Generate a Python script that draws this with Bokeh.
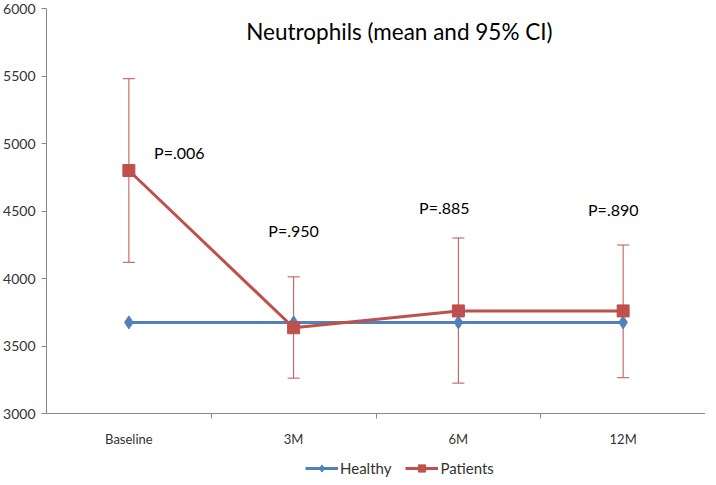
from bokeh.plotting import figure
from bokeh.layouts import column
from bokeh.models import (Range1d, FixedTicker, Whisker, ColumnDataSource, Legend, LegendItem, Label)
from bokeh.core.properties import value
from bokeh.embed import file_html
from bokeh.resources import INLINE

categories = ["Baseline", "3M", "6M", "12M"]
healthy = [3675, 3675, 3675, 3675]
patients = [4800, 3635, 3760, 3760]
ci_low = [4120, 3262, 3225, 3265]
ci_high = [5480, 4012, 4300, 4248]
p_labels = ["P=.006", "P=.950", "P=.885", "P=.890"]
p_label_x = [0.806, 1.5, 2.415, 3.44]
p_label_y = [4937, 4352, 4525, 4511]
y_ticks = [3000, 3500, 4000, 4500, 5000, 5500, 6000]
series_names = ["Healthy", "Patients"]

FONT = "Lato"
RED = "#C0504D"
BLUE = "#4F81BD"
TXT = "#333333"

x = [i + 0.5 for i in range(len(categories))]

p = figure(frame_width=659, frame_height=405, output_backend="svg", toolbar_location=None,
           x_range=Range1d(0, len(categories)), y_range=Range1d(3000, 6000),
           min_border_left=41, min_border_right=0, min_border_top=8, min_border_bottom=40)
p.outline_line_color = None
p.xgrid.visible = False
p.ygrid.visible = False

p.yaxis.ticker = FixedTicker(ticks=y_ticks)
p.yaxis.axis_line_color = "#868686"
p.yaxis.major_tick_line_color = "#868686"
p.yaxis.major_tick_out = 5
p.yaxis.major_tick_in = 0
p.yaxis.minor_tick_line_color = None
p.yaxis.major_label_text_font = FONT
p.yaxis.major_label_text_font_size = "14px"
p.yaxis.major_label_text_color = TXT
p.yaxis.major_label_standoff = 6

p.xaxis.ticker = FixedTicker(ticks=x, minor_ticks=[i for i in range(1, len(categories))])
p.xaxis.major_label_overrides = {xi: c for xi, c in zip(x, categories)}
p.xaxis.axis_line_color = "#868686"
p.xaxis.major_tick_line_color = None
p.xaxis.minor_tick_line_color = "#868686"
p.xaxis.minor_tick_out = 5
p.xaxis.minor_tick_in = 0
p.xaxis.major_label_text_font = FONT
p.xaxis.major_label_text_font_size = "13px"
p.xaxis.major_label_text_color = TXT
p.xaxis.major_label_standoff = 11

src = ColumnDataSource(dict(x=x, healthy=healthy, patients=patients, lo=ci_low, hi=ci_high))

p.line("x", "healthy", source=src, line_color=BLUE, line_width=3)
p.scatter("x", "healthy", source=src, marker="diamond", size=13, fill_color=BLUE, line_color=BLUE)

w = Whisker(base="x", lower="lo", upper="hi", source=src, line_color=RED, line_width=1)
w.upper_head.size = 12
w.lower_head.size = 12
w.upper_head.line_color = RED
w.lower_head.line_color = RED
p.add_layout(w)

p.line("x", "patients", source=src, line_color=RED, line_width=3)
p.scatter("x", "patients", source=src, marker="square", size=12, fill_color=RED, line_color=RED)

p.text(x=p_label_x, y=p_label_y, text=p_labels, text_font=value(FONT), text_font_size="16px",
       text_color="black", text_align="center", text_baseline="middle")

title = Label(x=2.142, y=5827, text="Neutrophils (mean and 95% CI)", text_font=FONT,
              text_font_size="22.5px", text_color="black", text_align="center", text_baseline="middle")
p.add_layout(title)

# legend strip below the chart (legend renderers sit outside the visible range)
lf = figure(width=700, height=24, output_backend="svg", toolbar_location=None,
            x_range=Range1d(0, 700), y_range=Range1d(0, 24),
            min_border=0, min_border_left=0, min_border_right=0, min_border_top=0, min_border_bottom=0)
lf.axis.visible = False
lf.grid.visible = False
lf.outline_line_color = None
off = dict(x=[-100, -90], y=[-100, -100])
dl1 = lf.line(x=off["x"], y=off["y"], line_color=BLUE, line_width=3)
dm1 = lf.scatter(x=off["x"], y=off["y"], marker="diamond", size=11, fill_color=BLUE, line_color=BLUE)
dl2 = lf.line(x=off["x"], y=off["y"], line_color=RED, line_width=3)
dm2 = lf.scatter(x=off["x"], y=off["y"], marker="square", size=10, fill_color=RED, line_color=RED)
legend = Legend(items=[LegendItem(label=series_names[0], renderers=[dl1, dm1]),
                       LegendItem(label=series_names[1], renderers=[dl2, dm2])],
                orientation="horizontal", location=(259, 0), border_line_color=None,
                background_fill_alpha=0,
                label_text_font=FONT, label_text_font_size="15px", label_text_color=TXT,
                glyph_width=33, glyph_height=18, label_height=18, spacing=14,
                padding=1, margin=0, label_standoff=2)
lf.add_layout(legend)

open("out.html", "w").write(file_html(column(p, lf, spacing=0), INLINE))
